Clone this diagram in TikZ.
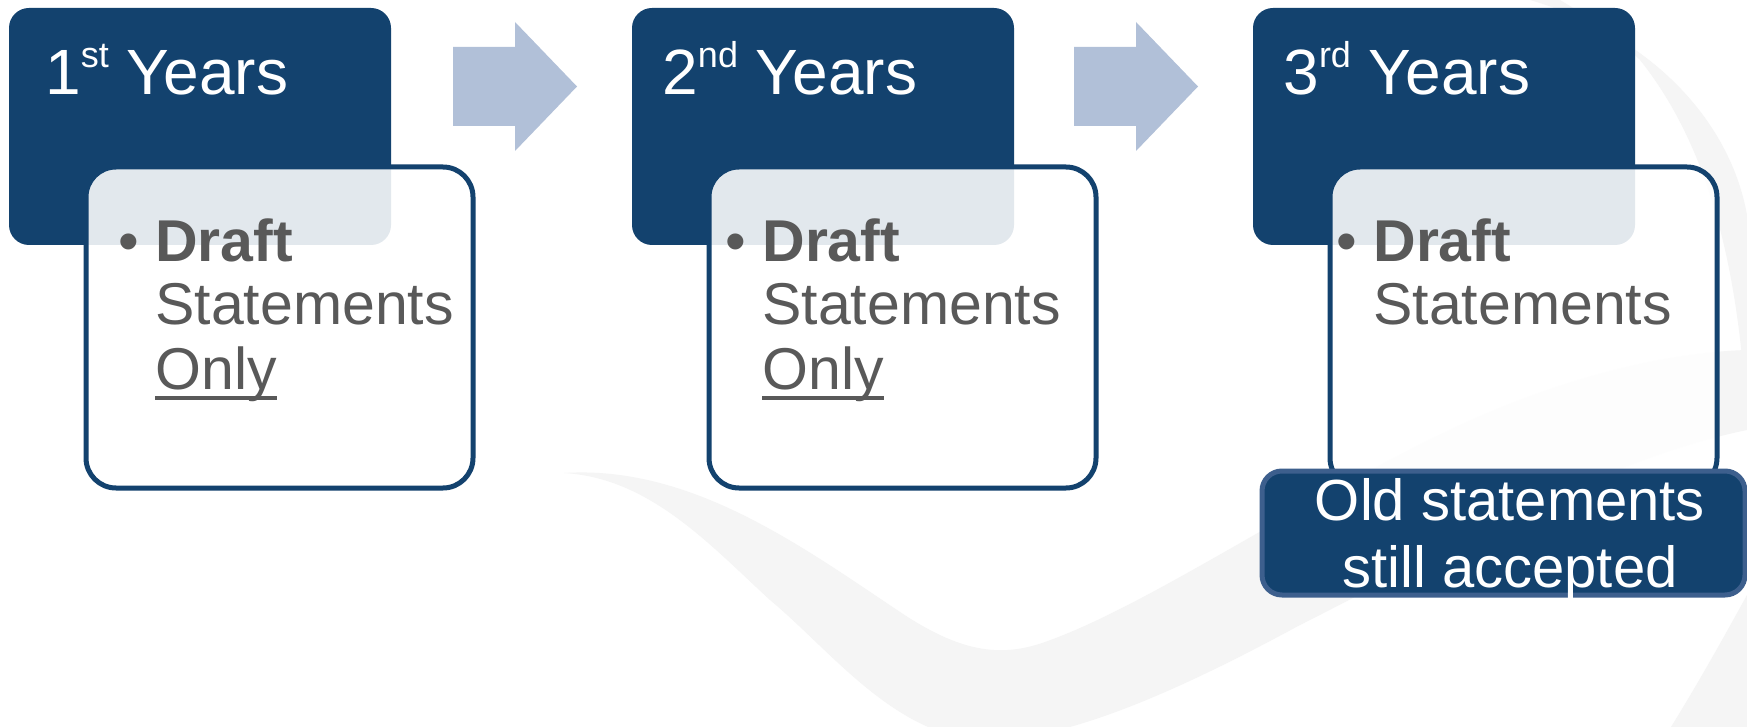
\documentclass[tikz,border=0pt]{standalone}
\usepackage{fontspec}
\setmainfont{Liberation Sans}
\usepackage{xcolor}
\usetikzlibrary{calc}
\definecolor{navy}{HTML}{13426E}
\definecolor{arrowblue}{HTML}{B1C0D8}
\definecolor{textgray}{HTML}{595959}
\definecolor{oldborder}{HTML}{3D5F8D}
\definecolor{swooshgray}{HTML}{F5F5F5}
\newcommand{\supr}[1]{\raisebox{13.5pt}{\fontsize{18pt}{18pt}\selectfont #1}}

\begin{document}
\begin{tikzpicture}[x=0.5pt,y=0.5pt,yscale=-1,xscale=1,
  yearbox/.style={fill=navy,rounded corners=10pt,minimum width=191pt,minimum height=118.5pt,inner sep=0pt},
  infobox/.style={draw=navy,line width=2.5pt,fill=white,fill opacity=0.88,rounded corners=15pt,minimum width=193.5pt,minimum height=160.5pt,inner sep=0pt},
  oldbox/.style={draw=oldborder,line width=2.5pt,fill=navy,rounded corners=10pt,minimum width=241.5pt,minimum height=62pt,inner sep=0pt},
  title/.style={anchor=base west,inner sep=0pt,text=white,font=\fontsize{32pt}{38pt}\selectfont},
  body/.style={anchor=base west,inner sep=0pt,text=textgray,font=\fontsize{29.5pt}{32pt}\selectfont},
  oldtext/.style={anchor=base,inner sep=0pt,text=white,font=\fontsize{29pt}{33pt}\selectfont},
  uline/.style={draw=textgray,line width=2pt}]
\path[use as bounding box] (0,0) rectangle (1747,727);
\fill[white] (0,0) rectangle (1747,727);

%Background Swoosh
\fill[swooshgray] (564,473) .. controls (690,465) and (800,545) .. (900,612) .. controls (960,652) and (1000,658) .. (1045,642) .. controls (1150,605) and (1300,500) .. (1460,425) .. controls (1580,370) and (1680,352) .. (1747,350) -- (1747,430) .. controls (1600,460) and (1430,560) .. (1300,625) .. controls (1180,690) and (1060,745) .. (975,740) .. controls (890,730) and (830,650) .. (770,600) .. controls (710,545) and (650,478) .. (564,473) -- cycle;
\fill[swooshgray] (1530,0) .. controls (1650,35) and (1730,120) .. (1747,215) -- (1747,420) .. controls (1740,300) and (1720,160) .. (1640,60) .. controls (1610,30) and (1580,12) .. (1560,0) -- cycle;
\fill[swooshgray] (1671,727) .. controls (1700,680) and (1725,635) .. (1747,595) -- (1747,727) -- cycle;

%Rounded Rect
\foreach \i/\x in {1/9,2/632,3/1253} {
  \node[yearbox] (year\i) at (\x+191,126.5) {};
  \node[infobox] (info\i) at (\x+270.5,327.5) {};
}

%Right Arrow
\foreach \x in {453,1074}
  \fill[arrowblue] (\x,47) -- (\x+62,47) -- (\x+62,22) -- (\x+124,86.5) -- (\x+62,151) -- (\x+62,126) -- (\x,126) -- cycle;

%Rounded Rect
\node[oldbox] (old) at (1503.5,533) {};

% Text Node
\node[title] (title1) at (45,95) {1\supr{st} Years};
\node[title] (title2) at (662,95) {2\supr{nd} Years};
\node[title] (title3) at (1283,95) {3\supr{rd} Years};
% Text Node
\foreach \i/\x in {1/155,2/762,3/1373} {
  \node[body] (dot\i) at (\x-37,262) {\textbullet};
  \node[body] (draft\i) at (\x,262) {\textbf{Draft}};
  \node[body] (stmt\i) at (\x,325) {Statements};
}
\foreach \i/\x in {1/155,2/762} {
  \node[body] (only\i) at (\x,390) {Only};
  \draw[uline] ($(only\i.base west)+(0,8)$) -- ($(only\i.base east)+(0,8)$);
}
% Text Node
\node[oldtext] (oldline1) at (1510,520) {Old statements};
\node[oldtext] (oldline2) at (1510,587) {still accepted};

\end{tikzpicture}
\end{document}
